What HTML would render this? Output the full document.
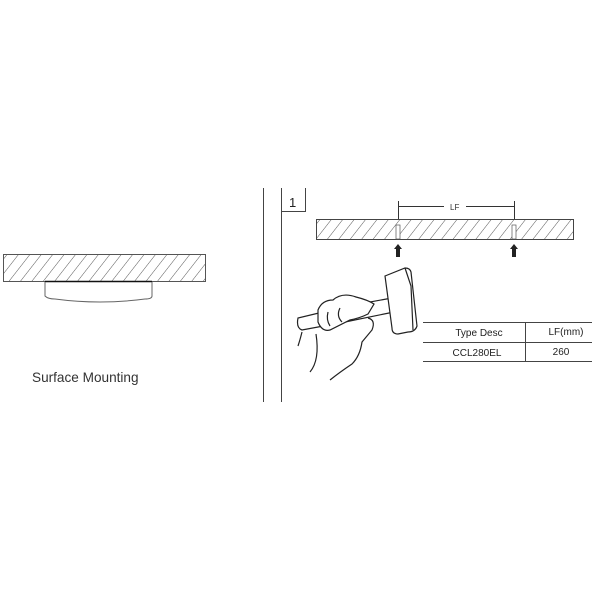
<!DOCTYPE html>
<html><head><style>body{margin:0;background:#fff}svg{display:block}</style></head><body>
<svg width="600" height="600" viewBox="0 0 600 600" xmlns="http://www.w3.org/2000/svg" font-family="Liberation Sans, sans-serif">
<defs>
<pattern id="h" width="9" height="9" patternUnits="userSpaceOnUse" patternTransform="rotate(38)">
<line x1="0" y1="0" x2="0" y2="9" stroke="#444" stroke-width="0.9"/></pattern>
</defs>
<rect x="3.5" y="254.5" width="202" height="27" fill="url(#h)" stroke="#555"/>
<line x1="45" y1="281.5" x2="152" y2="281.5" stroke="#111" stroke-width="1.5"/>
<path d="M45 282 V296 Q48 299 55 299 Q100 305 145 299 Q152 299 152 296 V282" fill="none" stroke="#666"/>
<text x="32" y="382" font-size="13.6" fill="#333">Surface Mounting</text>
<g stroke="#444" fill="none">
<line x1="263.5" y1="188" x2="263.5" y2="402"/>
<line x1="281.5" y1="188" x2="281.5" y2="402"/>
<line x1="281" y1="211.5" x2="306" y2="211.5"/>
<line x1="305.5" y1="188" x2="305.5" y2="212"/>
</g>
<text x="289" y="207" font-size="13" fill="#222">1</text>
<rect x="316.5" y="219.5" width="257" height="20" fill="url(#h)" stroke="#444"/>
<rect x="396" y="225" width="4" height="14" fill="#fff" stroke="#555" stroke-width="0.7"/>
<rect x="512" y="225" width="4" height="14" fill="#fff" stroke="#555" stroke-width="0.7"/>
<g stroke="#333">
<line x1="398.5" y1="201" x2="398.5" y2="219"/><line x1="514.5" y1="201" x2="514.5" y2="219"/>
<line x1="398" y1="206.5" x2="444" y2="206.5"/><line x1="466" y1="206.5" x2="514" y2="206.5"/>
</g>
<text x="450" y="210" font-size="8" fill="#333">LF</text>
<g fill="#222">
<polygon points="398,244 402,249 400,249 400,257 396,257 396,249 394,249"/>
<polygon points="514,244 518,249 516,249 516,257 512,257 512,249 510,249"/>
</g>
<g stroke="#222" fill="#fff" stroke-width="1.2">
<path d="M298 318 Q296 328 302 330 L345 322 L394 312 L392 298 L348 306 Z"/>
<path d="M385 276 L405 268 Q410 268 411 272 L417 326 Q415 332 408 332 L398 334 Q392 334 392 328 Z"/>
<path d="M405 268 L411 286 L413 330" fill="none"/>
<path d="M318 310 Q322 300 333 300 Q342 292 356 297 Q368 300 374 304 L368 314 Q360 318 350 320 L330 330 Q322 332 318 322 Z"/>
<path d="M368 318 Q376 320 372 330 L362 342 Q360 356 352 364 Q340 372 330 380" fill="none"/>
<path d="M302 332 Q300 340 298 346 M316 334 Q320 360 310 372" fill="none"/>
<path d="M328 312 Q326 320 330 326 M340 308 Q336 316 342 322" fill="none"/>
</g>
<g stroke="#444">
<line x1="423" y1="322.5" x2="592" y2="322.5"/>
<line x1="423" y1="342.5" x2="592" y2="342.5"/>
<line x1="423" y1="361.5" x2="592" y2="361.5"/>
<line x1="525.5" y1="322" x2="525.5" y2="362"/>
</g>
<g font-size="10" fill="#222" text-anchor="middle">
<text x="479" y="336">Type Desc</text>
<text x="566" y="335">LF(mm)</text>
<text x="477" y="356">CCL280EL</text>
<text x="561" y="355">260</text>
</g>
</svg>
</body></html>
